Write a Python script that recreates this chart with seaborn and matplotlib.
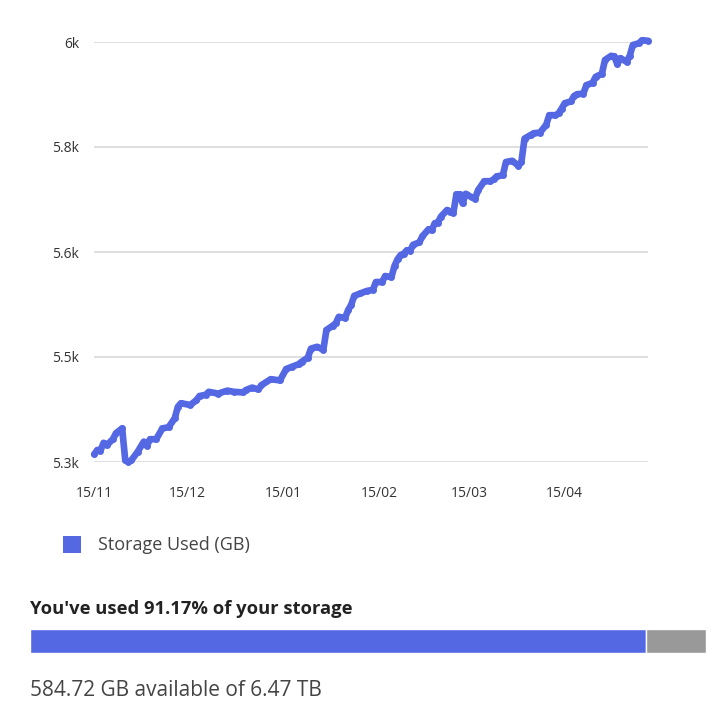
import matplotlib
matplotlib.use("Agg")
import pandas as pd
import matplotlib.pyplot as plt
import matplotlib.dates as mdates
from matplotlib.patches import Patch
import seaborn as sns

dates = ["2023-11-15", "2023-11-16", "2023-11-17", "2023-11-18", "2023-11-19", "2023-11-21",
         "2023-11-22", "2023-11-24", "2023-11-25", "2023-11-26", "2023-11-27", "2023-11-29",
         "2023-12-01", "2023-12-02", "2023-12-03", "2023-12-05", "2023-12-07", "2023-12-09",
         "2023-12-11", "2023-12-12", "2023-12-13", "2023-12-16", "2023-12-18", "2023-12-19",
         "2023-12-21", "2023-12-22", "2023-12-25", "2023-12-28", "2023-12-30",
         "2024-01-02", "2024-01-03", "2024-01-05", "2024-01-07", "2024-01-08", "2024-01-11",
         "2024-01-14", "2024-01-16", "2024-01-18", "2024-01-20", "2024-01-21", "2024-01-23",
         "2024-01-24", "2024-01-26", "2024-01-28", "2024-01-29", "2024-01-31",
         "2024-02-01", "2024-02-02", "2024-02-04", "2024-02-05", "2024-02-06", "2024-02-07",
         "2024-02-09", "2024-02-11", "2024-02-13", "2024-02-14", "2024-02-16", "2024-02-17",
         "2024-02-19", "2024-02-20", "2024-02-21", "2024-02-22", "2024-02-23", "2024-02-24",
         "2024-02-25", "2024-02-26", "2024-02-28", "2024-02-29",
         "2024-03-02", "2024-03-03", "2024-03-04", "2024-03-05", "2024-03-06", "2024-03-08",
         "2024-03-09", "2024-03-10", "2024-03-11", "2024-03-12", "2024-03-13", "2024-03-14",
         "2024-03-16", "2024-03-17", "2024-03-18", "2024-03-20", "2024-03-22", "2024-03-23",
         "2024-03-24", "2024-03-26", "2024-03-27", "2024-03-29", "2024-03-31",
         "2024-04-01", "2024-04-02", "2024-04-04", "2024-04-05", "2024-04-07", "2024-04-09",
         "2024-04-10", "2024-04-12", "2024-04-13", "2024-04-14", "2024-04-15", "2024-04-17",
         "2024-04-18", "2024-04-19", "2024-04-21", "2024-04-22", "2024-04-24", "2024-04-25",
         "2024-04-27", "2024-04-28", "2024-04-30",
         "2024-05-01", "2024-05-02", "2024-05-03", "2024-05-05", "2024-05-06", "2024-05-07",
         "2024-05-09", "2024-05-10", "2024-05-12"]

storage_gb = [5313, 5320, 5319, 5332, 5328, 5338, 5348, 5356, 5303, 5300,
              5303, 5317, 5334, 5327, 5338, 5338, 5356, 5358, 5373, 5392,
              5398, 5395, 5403, 5410, 5412, 5417, 5414, 5419, 5417, 5416,
              5420, 5424, 5421, 5428, 5438, 5436, 5455, 5459, 5463, 5467,
              5474, 5489, 5492, 5487, 5520, 5527, 5531, 5542, 5540, 5553,
              5562, 5577, 5581, 5585, 5587, 5600, 5600, 5610, 5608, 5627,
              5638, 5645, 5647, 5653, 5652, 5662, 5666, 5676, 5688, 5686,
              5698, 5699, 5709, 5720, 5717, 5715, 5746, 5746, 5731, 5747,
              5741, 5739, 5753, 5768, 5768, 5771, 5776, 5778, 5800, 5802,
              5794, 5800, 5839, 5845, 5848, 5849, 5862, 5878, 5878, 5881,
              5889, 5898, 5901, 5910, 5913, 5914, 5928, 5932, 5942, 5947,
              5970, 5977, 5976, 5963, 5973, 5967, 5977, 5995, 5998, 6003, 6002]

y_ticks = [5300, 5475, 5650, 5825, 6000]
y_labels = ["5.3k", "5.5k", "5.6k", "5.8k", "6k"]
x_ticks = ["2023-11-15", "2023-12-15", "2024-01-15", "2024-02-15", "2024-03-15", "2024-04-15"]

used_pct = 91.17
free_pct = 100 - used_pct
series_name = "Storage Used (GB)"

blue = "#5468E4"
grey = "#999999"

df = pd.DataFrame({"date": pd.to_datetime(dates), "used": storage_gb})

sns.set_style("white")
plt.rcParams["font.family"] = ["Open Sans", "DejaVu Sans"]

fig = plt.figure(figsize=(7.28, 7.23), dpi=100)
ax = fig.add_axes([94.3 / 728, 1 - 462 / 723, (648.3 - 94.3) / 728, 420 / 723])

sns.lineplot(data=df, x="date", y="used", ax=ax, color=blue, linewidth=4.8,
             marker="o", markersize=5, markeredgewidth=0, clip_on=False, zorder=3)

ax.set_ylim(5300, 6000)
ax.set_xlim(pd.Timestamp("2023-11-15"), pd.Timestamp("2024-05-12"))
ax.set_yticks(y_ticks)
ax.set_yticklabels(y_labels)
ax.set_xticks(pd.to_datetime(x_ticks))
ax.xaxis.set_major_formatter(mdates.DateFormatter("%d/%m"))
ax.grid(axis="y", color="#dcdcdc", linewidth=1.3)
ax.set_axisbelow(True)
for s in ax.spines.values():
    s.set_visible(False)
ax.tick_params(axis="y", length=0, pad=11, labelsize=10, labelcolor="#333333")
ax.tick_params(axis="x", length=7, width=1, color="#cccccc", pad=10,
               labelsize=10, labelcolor="#333333")
ax.set_xlabel("")
ax.set_ylabel("")
if ax.get_legend():
    ax.get_legend().remove()

fig.legend(handles=[Patch(facecolor=blue, edgecolor="none", label=series_name)],
           loc="center left", bbox_to_anchor=(47 / 728, 1 - 545 / 723), frameon=False,
           handlelength=1.0, handleheight=1.1, handletextpad=0.9,
           prop={"size": 13}, labelcolor="#444444")

fig.text(30 / 728, 1 - 609 / 723, "You've used {:.2f}% of your storage".format(used_pct),
         fontsize=13.2, fontweight="bold", color="#222222", va="center", ha="left")

bar_ax = fig.add_axes([30 / 728, 1 - 653 / 723, 676 / 728, 24 / 723])
bar_ax.barh([0], [used_pct], color=blue, height=1)
bar_ax.barh([0], [free_pct], left=[used_pct], color=grey, height=1)
bar_ax.set_xlim(0, 100)
bar_ax.set_ylim(-0.5, 0.5)
bar_ax.axis("off")

fig.text(30 / 728, 1 - 690 / 723, "584.72 GB available of 6.47 TB",
         fontsize=15, color="#444444", va="center", ha="left")

fig.savefig("out.png", dpi=100)
